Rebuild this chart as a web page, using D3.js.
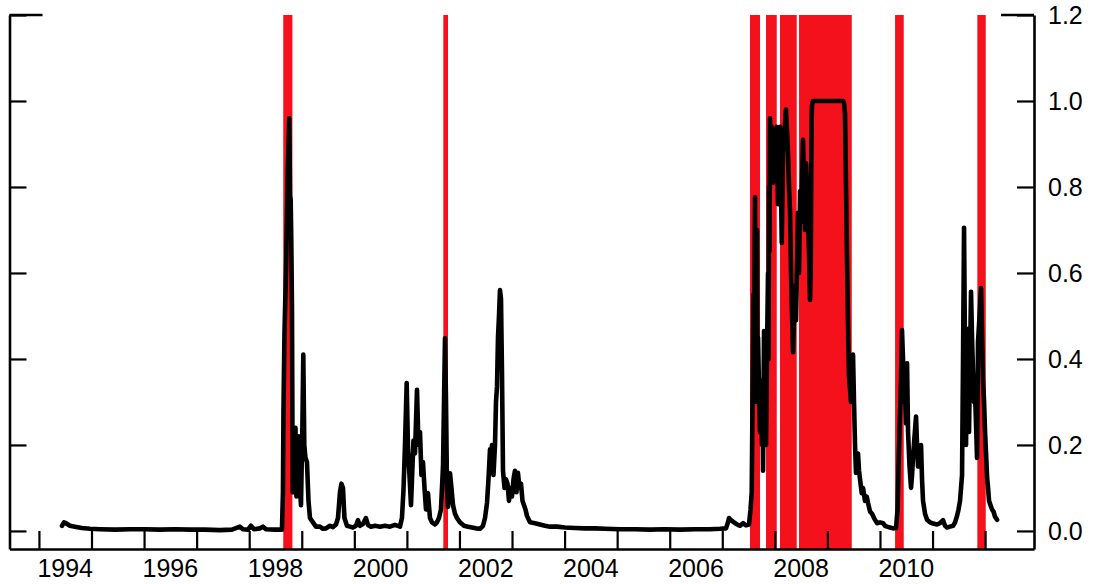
<!DOCTYPE html>
<html>
<head>
<meta charset="utf-8">
<script src="https://cdn.jsdelivr.net/npm/d3@7"></script>
<style>
  body { margin: 0; background: #fff; }
  .canvas { display: block; }
  .tick text { font-family: "Liberation Sans", Arial, sans-serif; font-size: 25px; fill: #000; }
  .lbl { font-family: "Liberation Sans", Arial, sans-serif; font-size: 25px; fill: #000; }
</style>
</head>
<body>
<svg class="canvas"></svg>
<script>
// decimal year of each observation
var dates = [
  1994.438, 1994.476, 1994.514, 1994.590, 1994.685, 1994.818, 1994.970, 1995.161, 1995.446, 1995.731,
  1996.017, 1996.302, 1996.588, 1996.873, 1997.158, 1997.444, 1997.672, 1997.824, 1997.881, 1997.976,
  1998.034, 1998.091, 1998.205, 1998.262, 1998.319, 1998.490, 1998.623, 1998.642, 1998.652, 1998.671,
  1998.699, 1998.737, 1998.762, 1998.776, 1998.789, 1998.800, 1998.814, 1998.827, 1998.842, 1998.861,
  1998.880, 1998.899, 1998.918, 1998.937, 1998.956, 1998.985, 1999.013, 1999.029, 1999.048, 1999.070,
  1999.099, 1999.128, 1999.156, 1999.213, 1999.270, 1999.346, 1999.403, 1999.461, 1999.537, 1999.594,
  1999.651, 1999.689, 1999.727, 1999.755, 1999.784, 1999.812, 1999.860, 1999.917, 1999.974, 2000.031,
  2000.069, 2000.107, 2000.164, 2000.221, 2000.260, 2000.317, 2000.393, 2000.488, 2000.583, 2000.678,
  2000.773, 2000.868, 2000.906, 2000.935, 2000.964, 2000.996, 2001.021, 2001.049, 2001.078, 2001.106,
  2001.125, 2001.154, 2001.192, 2001.220, 2001.249, 2001.277, 2001.306, 2001.335, 2001.363, 2001.401,
  2001.439, 2001.477, 2001.534, 2001.572, 2001.610, 2001.648, 2001.687, 2001.706, 2001.725, 2001.744,
  2001.763, 2001.782, 2001.801, 2001.820, 2001.848, 2001.877, 2001.915, 2001.953, 2002.010, 2002.086,
  2002.162, 2002.238, 2002.314, 2002.390, 2002.448, 2002.486, 2002.524, 2002.552, 2002.581, 2002.600,
  2002.619, 2002.647, 2002.676, 2002.695, 2002.714, 2002.733, 2002.752, 2002.771, 2002.790, 2002.809,
  2002.828, 2002.857, 2002.885, 2002.914, 2002.942, 2002.971, 2002.999, 2003.028, 2003.056, 2003.085,
  2003.113, 2003.142, 2003.171, 2003.199, 2003.228, 2003.256, 2003.285, 2003.342, 2003.437, 2003.532,
  2003.627, 2003.722, 2003.856, 2004.008, 2004.198, 2004.388, 2004.578, 2004.769, 2005.054, 2005.340,
  2005.625, 2005.910, 2006.196, 2006.481, 2006.766, 2006.957, 2007.071, 2007.109, 2007.128, 2007.166,
  2007.223, 2007.280, 2007.337, 2007.394, 2007.451, 2007.508,
  2007.537, 2007.560, 2007.575, 2007.594, 2007.604, 2007.613, 2007.623, 2007.632, 2007.642, 2007.651,
  2007.661, 2007.670, 2007.680, 2007.699, 2007.718, 2007.737, 2007.756, 2007.765, 2007.775, 2007.784,
  2007.794, 2007.803, 2007.813, 2007.832, 2007.851, 2007.870, 2007.880, 2007.889, 2007.898, 2007.908,
  2007.924, 2007.940,
  2007.956, 2007.965, 2007.994,
  2008.035, 2008.060, 2008.079, 2008.098, 2008.117, 2008.131, 2008.155, 2008.184, 2008.212, 2008.231,
  2008.250, 2008.270, 2008.289, 2008.308, 2008.321, 2008.346, 2008.365, 2008.384, 2008.403, 2008.441,
  2008.460, 2008.479, 2008.498, 2008.536, 2008.555, 2008.574, 2008.593, 2008.612, 2008.631, 2008.650,
  2008.669, 2008.682, 2008.698, 2008.707, 2008.726, 2008.859, 2009.050, 2009.297, 2009.316, 2009.335,
  2009.354, 2009.367, 2009.383, 2009.398, 2009.411, 2009.430, 2009.449, 2009.468, 2009.487, 2009.506,
  2009.525, 2009.544, 2009.563, 2009.582, 2009.601, 2009.620, 2009.653, 2009.677, 2009.715, 2009.748,
  2009.773, 2009.811, 2009.849, 2009.887, 2009.944, 2010.001, 2010.058, 2010.096, 2010.134, 2010.191,
  2010.248, 2010.305, 2010.334, 2010.353, 2010.381, 2010.400, 2010.419, 2010.438, 2010.457, 2010.477,
  2010.496, 2010.515, 2010.534, 2010.562, 2010.591, 2010.610, 2010.629, 2010.657, 2010.686, 2010.705,
  2010.724, 2010.752, 2010.781, 2010.800, 2010.819, 2010.857, 2010.895, 2010.952, 2010.990, 2011.047,
  2011.085, 2011.142, 2011.200, 2011.238, 2011.276, 2011.333, 2011.390, 2011.428, 2011.466, 2011.494,
  2011.523, 2011.542, 2011.561, 2011.580, 2011.599, 2011.618, 2011.637, 2011.656, 2011.675, 2011.694,
  2011.713, 2011.732, 2011.751, 2011.770, 2011.789, 2011.808, 2011.827, 2011.846, 2011.865, 2011.894,
  2011.922, 2011.942, 2011.961, 2011.980, 2011.999, 2012.018, 2012.037, 2012.056, 2012.075, 2012.103,
  2012.132, 2012.160, 2012.189, 2012.227
];

var probs = [
  .012, .02, .018, .012, .01, .007, .005, .004, .003, .004,
  .004, .003, .004, .003, .003, .002, .003, .01, .004, .003,
  .012, .004, .006, .01, .004, .003, .003, .09, .28, .46,
  .6, .85, .96, .78, .77, .68, .52, .09, .2, .16,
  .24, .08, .18, .22, .12, .06, .25, .41, .2, .17,
  .16, .07, .03, .02, .01, .01, .005, .006, .012, .009,
  .015, .03, .09, .11, .1, .03, .012, .01, .008, .012,
  .025, .012, .016, .03, .014, .01, .012, .01, .012, .01,
  .014, .01, .03, .095, .2, .344, .19, .13, .06, .15,
  .21, .18, .328, .2, .23, .13, .16, .1, .05, .088,
  .03, .02, .015, .02, .03, .05, .15, .3, .448, .3,
  .1, .056, .09, .134, .1, .06, .04, .03, .02, .012,
  .01, .008, .006, .005, .012, .03, .065, .12, .19, .16,
  .2, .13, .2, .3, .335, .45, .5, .56, .54, .37,
  .14, .1, .12, .11, .07, .1, .08, .12, .14, .09,
  .135, .1, .11, .07, .06, .05, .035, .02, .018, .015,
  .012, .01, .01, .008, .007, .006, .006, .005, .004, .004,
  .003, .004, .003, .004, .004, .005, .006, .02, .03, .025,
  .02, .015, .012, .018, .013, .015,
  .05, .09, .3, .55, .3, .6, .776, .4, .6, .3,
  .7, .35, .45, .33, .23, .3, .2, .35, .14, .3,
  .465, .25, .3, .2, .42, .6, .4, .8, .65, .96,
  .85, .94,
  .88, .81, .9,
  .94, .76, .85, .94, .8, .67, .88, .93, .98, .93,
  .88, .8, .74, .6, .53, .416, .5, .57, .49, .74,
  .6, .79, .72, .91, .8, .7, .855, .8, .72, .65,
  .537, .6, .95, .99, 1.0, 1.0, 1.0, 1.0, .995, .97,
  .8, .68, .55, .43, .36, .33, .3, .35, .41, .3,
  .2, .135, .16, .18, .14, .12, .088, .1, .07, .08,
  .065, .045, .04, .03, .018, .02, .018, .012, .01, .008,
  .006, .007, .05, .15, .27, .35, .467, .4, .3, .32,
  .25, .39, .23, .15, .1, .13, .17, .22, .266, .2,
  .15, .18, .2, .12, .07, .04, .026, .02, .018, .016,
  .015, .018, .025, .012, .008, .01, .012, .02, .035, .05,
  .07, .1, .13, .4, .705, .4, .2, .47, .3, .23,
  .4, .556, .45, .37, .3, .32, .25, .17, .44, .5,
  .565, .45, .35, .3, .23, .18, .126, .1, .07, .06,
  .05, .045, .033, .026
];

// shaded crisis periods
var bandStart = [1998.648, 2001.693, 2007.527, 2007.832, 2008.098, 2008.460, 2010.287, 2011.852];
var bandEnd   = [1998.822, 2001.782, 2007.718, 2008.036, 2008.416, 2009.463, 2010.452, 2012.012];

var yearTicks = d3.range(1994, 2013);
var yearLabels = [1994, 1996, 1998, 2000, 2002, 2004, 2006, 2008, 2010];
var valueTicks = [0, 0.2, 0.4, 0.6, 0.8, 1.0, 1.2];

function display() {
  var width = 1094;
  var height = 584;
  var left = 9.5, right = 1034, top = 15, bottom = 549;

  var x = d3.scaleLinear().domain([1993.44, 2012.93]).range([left, right]);
  var y = d3.scaleLinear().domain([-0.042, 1.2]).range([bottom, top]);

  var canvas = d3.select(".canvas")
    .attr("width", width)
    .attr("height", height);

  canvas.append("g")
    .selectAll("rect")
    .data(d3.zip(bandStart, bandEnd))
    .enter()
    .append("rect")
    .attr("x", function(d) { return x(d[0]); })
    .attr("width", function(d) { return x(d[1]) - x(d[0]); })
    .attr("y", y(1.2))
    .attr("height", y(-0.042) - y(1.2))
    .attr("fill", "#f4111b");

  var line = d3.line()
    .x(function(d) { return x(d[0]); })
    .y(function(d) { return y(d[1]); });

  canvas.append("path")
    .datum(d3.zip(dates, probs))
    .attr("d", line)
    .attr("fill", "none")
    .attr("stroke", "#000")
    .attr("stroke-width", 4.6)
    .attr("stroke-linejoin", "round")
    .attr("stroke-linecap", "round");

  // bottom axis, ticks pointing inward
  var xAxis = d3.axisBottom(x).tickValues(yearTicks).tickSize(-18).tickSizeOuter(0).tickFormat("");
  canvas.append("g")
    .attr("transform", "translate(0," + bottom + ")")
    .call(xAxis);

  canvas.selectAll(".xlbl")
    .data(yearLabels)
    .enter()
    .append("text")
    .attr("class", "lbl")
    .attr("x", function(d) { return x(d + 0.5); })
    .attr("y", 577)
    .attr("text-anchor", "middle")
    .text(function(d) { return d; });

  var yLeft = d3.axisLeft(y).tickValues(valueTicks).tickSize(-17).tickSizeOuter(0).tickFormat("");
  canvas.append("g")
    .attr("transform", "translate(" + left + ",0)")
    .call(yLeft);

  var yRight = d3.axisRight(y).tickValues(valueTicks).tickSize(-17).tickSizeOuter(0).tickPadding(14)
    .tickFormat(d3.format(".1f"));
  canvas.append("g")
    .attr("transform", "translate(" + right + ",0)")
    .call(yRight);

  // longer corner marks at the top
  canvas.append("line").attr("x1", left).attr("x2", left + 33).attr("y1", top).attr("y2", top);
  canvas.append("line").attr("x1", right - 33).attr("x2", right).attr("y1", top).attr("y2", top);

  canvas.selectAll(".domain").attr("stroke-width", 2.6);
  canvas.selectAll(".tick line").attr("stroke-width", 2.2);
  canvas.selectAll("line").filter(function() { return !this.getAttribute("stroke"); })
    .attr("stroke", "#000").attr("stroke-width", 2.6);
  canvas.selectAll(".tick text").attr("dy", "0.35em");
}

display();
</script>
</body>
</html>
